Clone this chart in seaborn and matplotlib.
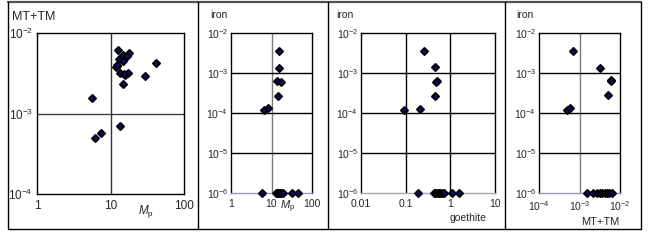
import matplotlib
matplotlib.use("Agg")
import matplotlib.pyplot as plt
import seaborn as sns
from matplotlib.lines import Line2D

# --- data ---
# panel 1: Mp vs MT+TM
p1_mp = [12.8, 17.9, 14.9, 16.9, 12.9, 14.7, 12.4, 11.9, 42.0, 13.6, 15.9, 17.5,
         29.8, 14.8, 5.65, 13.5, 7.5, 6.1, 15.2, 12.2]
p1_mt = [6.1e-3, 5.7e-3, 5.4e-3, 5.2e-3, 4.8e-3, 4.5e-3, 3.9e-3, 3.8e-3, 4.2e-3, 3.2e-3,
         3.0e-3, 3.15e-3, 2.9e-3, 2.3e-3, 1.58e-3, 6.9e-4, 5.8e-4, 4.9e-4, 3.1e-3, 4.0e-3]

# panel 2: Mp vs iron (zeros plotted at 1e-6)
p2_mp = [15.1, 15.1, 13.7, 16.9, 14.2, 6.4, 8.2,
         5.9, 12.6, 13.5, 14.5, 15.5, 16.5, 17.5, 19.0, 32.0, 46.0]
p2_fe = [3.5e-3, 1.36e-3, 6.3e-4, 6.0e-4, 2.7e-4, 1.19e-4, 1.3e-4,
         1e-6, 1e-6, 1e-6, 1e-6, 1e-6, 1e-6, 1e-6, 1e-6, 1e-6, 1e-6]

# panel 3: goethite vs iron
p3_go = [0.256, 0.446, 0.50, 0.49, 0.446, 0.090, 0.209,
         0.185, 0.42, 0.45, 0.48, 0.52, 0.56, 0.60, 0.65, 0.72, 1.1, 1.6]
p3_fe = [3.6e-3, 1.39e-3, 6.3e-4, 5.9e-4, 2.7e-4, 1.17e-4, 1.29e-4,
         1e-6, 1e-6, 1e-6, 1e-6, 1e-6, 1e-6, 1e-6, 1e-6, 1e-6, 1e-6, 1e-6]

# panel 4: MT+TM vs iron
p4_mt = [7.0e-4, 3.2e-3, 5.9e-3, 6.1e-3, 5.1e-3, 5.0e-4, 5.8e-4,
         1.55e-3, 2.2e-3, 2.7e-3, 3.2e-3, 3.6e-3, 4.2e-3, 4.8e-3, 5.5e-3, 6.2e-3]
p4_fe = [3.5e-3, 1.36e-3, 6.3e-4, 6.6e-4, 2.8e-4, 1.19e-4, 1.3e-4,
         1e-6, 1e-6, 1e-6, 1e-6, 1e-6, 1e-6, 1e-6, 1e-6, 1e-6]

sns.set_style("white")
plt.rcParams['font.family'] = ['Liberation Sans', 'DejaVu Sans']
plt.rcParams['mathtext.fontset'] = 'custom'
plt.rcParams['mathtext.rm'] = 'Liberation Sans'
plt.rcParams['mathtext.it'] = 'Liberation Sans:italic'

W, H = 650, 241
fig = plt.figure(figsize=(W / 100, H / 100), dpi=100)


def px_axes(x0, y0, x1, y1):
    return fig.add_axes([x0 / W, 1 - y1 / H, (x1 - x0) / W, (y1 - y0) / H])


def fig_line(xs, ys, color="black", lw=1.0):
    fig.add_artist(Line2D([x / W for x in xs], [1 - y / H for y in ys],
                          color=color, lw=lw, transform=fig.transFigure))


def style(ax, xlim, ylim, xticks, xlabels, yticks, ylabels, vgrid, hgrid, bottom, fs, ypad):
    ax.set_xscale("log")
    ax.set_yscale("log")
    ax.set_xlim(*xlim)
    ax.set_ylim(*ylim)
    ax.set_xticks(xticks)
    ax.set_xticklabels(xlabels)
    ax.set_yticks(yticks)
    ax.set_yticklabels(ylabels)
    ax.minorticks_off()
    ax.tick_params(axis="x", length=0, pad=4.5, labelsize=fs)
    ax.tick_params(axis="y", length=0, pad=ypad, labelsize=fs)
    ax.set_xlabel("")
    ax.set_ylabel("")
    for t in xticks[1:-1]:
        ax.axvline(t, color=vgrid, lw=1.0, zorder=1)
    for t in yticks[1:-1]:
        ax.axhline(t, color=hgrid, lw=1.0, zorder=1)
    for s in ["left", "top", "right"]:
        ax.spines[s].set_color("black")
        ax.spines[s].set_linewidth(1.0)
    ax.spines["bottom"].set_color(bottom)
    ax.spines["bottom"].set_linewidth(1.0)


def dots(ax, x, y):
    sns.scatterplot(x=x, y=y, ax=ax, marker="D", s=13, color="#0c0c78",
                    edgecolor="black", linewidth=1.4, clip_on=False, zorder=3)


ex = lambda n: r"$\mathdefault{10^{%d}}$" % n

# panel 1
ax1 = px_axes(37, 33, 184, 194)
dots(ax1, p1_mp, p1_mt)
style(ax1, (1, 100), (1e-4, 1e-2), [1, 10, 100], ["1", "10", "100"],
      [1e-4, 1e-3, 1e-2], [ex(-4), ex(-3), ex(-2)], "#303030", "#404040", "black", 8.5, 3)
fig.text(12 / W, 1 - 17 / H, "MT+TM", fontsize=9, va="center", ha="left")
fig.text(146 / W, 1 - 211 / H, r"$M_{\rm p}$", fontsize=8.5, va="center", ha="center")

fe_ticks = [1e-6, 1e-5, 1e-4, 1e-3, 1e-2]
fe_labels = [ex(-6), ex(-5), ex(-4), ex(-3), ex(-2)]

# panel 2
ax2 = px_axes(231, 33, 312, 193)
dots(ax2, p2_mp, p2_fe)
style(ax2, (1, 100), (1e-6, 1e-2), [1, 10, 100], ["1", "10", "100"],
      fe_ticks, fe_labels, "#7a7a7a", "black", "#9a9ab8", 7.5, 2)
fig.text(210 / W, 1 - 15 / H, "iron", fontsize=7.5, va="center", ha="left")
fig.text(288 / W, 1 - 207 / H, r"$M_{\rm p}$", fontsize=8, va="center", ha="center")

# panel 3
ax3 = px_axes(361, 33, 495, 193)
dots(ax3, p3_go, p3_fe)
style(ax3, (0.01, 10), (1e-6, 1e-2), [0.01, 0.1, 1, 10], ["0.01", "0.1", "1", "10"],
      fe_ticks, fe_labels, "black", "black", "#a8a8b0", 7.5, 2)
fig.text(336 / W, 1 - 15 / H, "iron", fontsize=7.5, va="center", ha="left")
fig.text(468 / W, 1 - 218 / H, "goethite", fontsize=7.5, va="center", ha="center")

# panel 4
ax4 = px_axes(539, 33, 620, 193)
dots(ax4, p4_mt, p4_fe)
style(ax4, (1e-4, 1e-2), (1e-6, 1e-2), [1e-4, 1e-3, 1e-2], [ex(-4), ex(-3), ex(-2)],
      fe_ticks, fe_labels, "#7a7a7a", "black", "#9a9ab8", 7.5, 2)
fig.text(516 / W, 1 - 15 / H, "iron", fontsize=7.5, va="center", ha="left")
fig.text(600 / W, 1 - 222 / H, "MT+TM", fontsize=8, va="center", ha="center")

# outer frame and panel dividers
fig_line([8, 641], [2, 2], color="#505050", lw=1.6)
fig_line([8, 641], [229, 229])
fig_line([8, 8], [2, 229])
fig_line([641, 641], [2, 229])
for xd in [198, 328, 505]:
    fig_line([xd, xd], [2, 229])

fig.savefig("out.png", dpi=100)
